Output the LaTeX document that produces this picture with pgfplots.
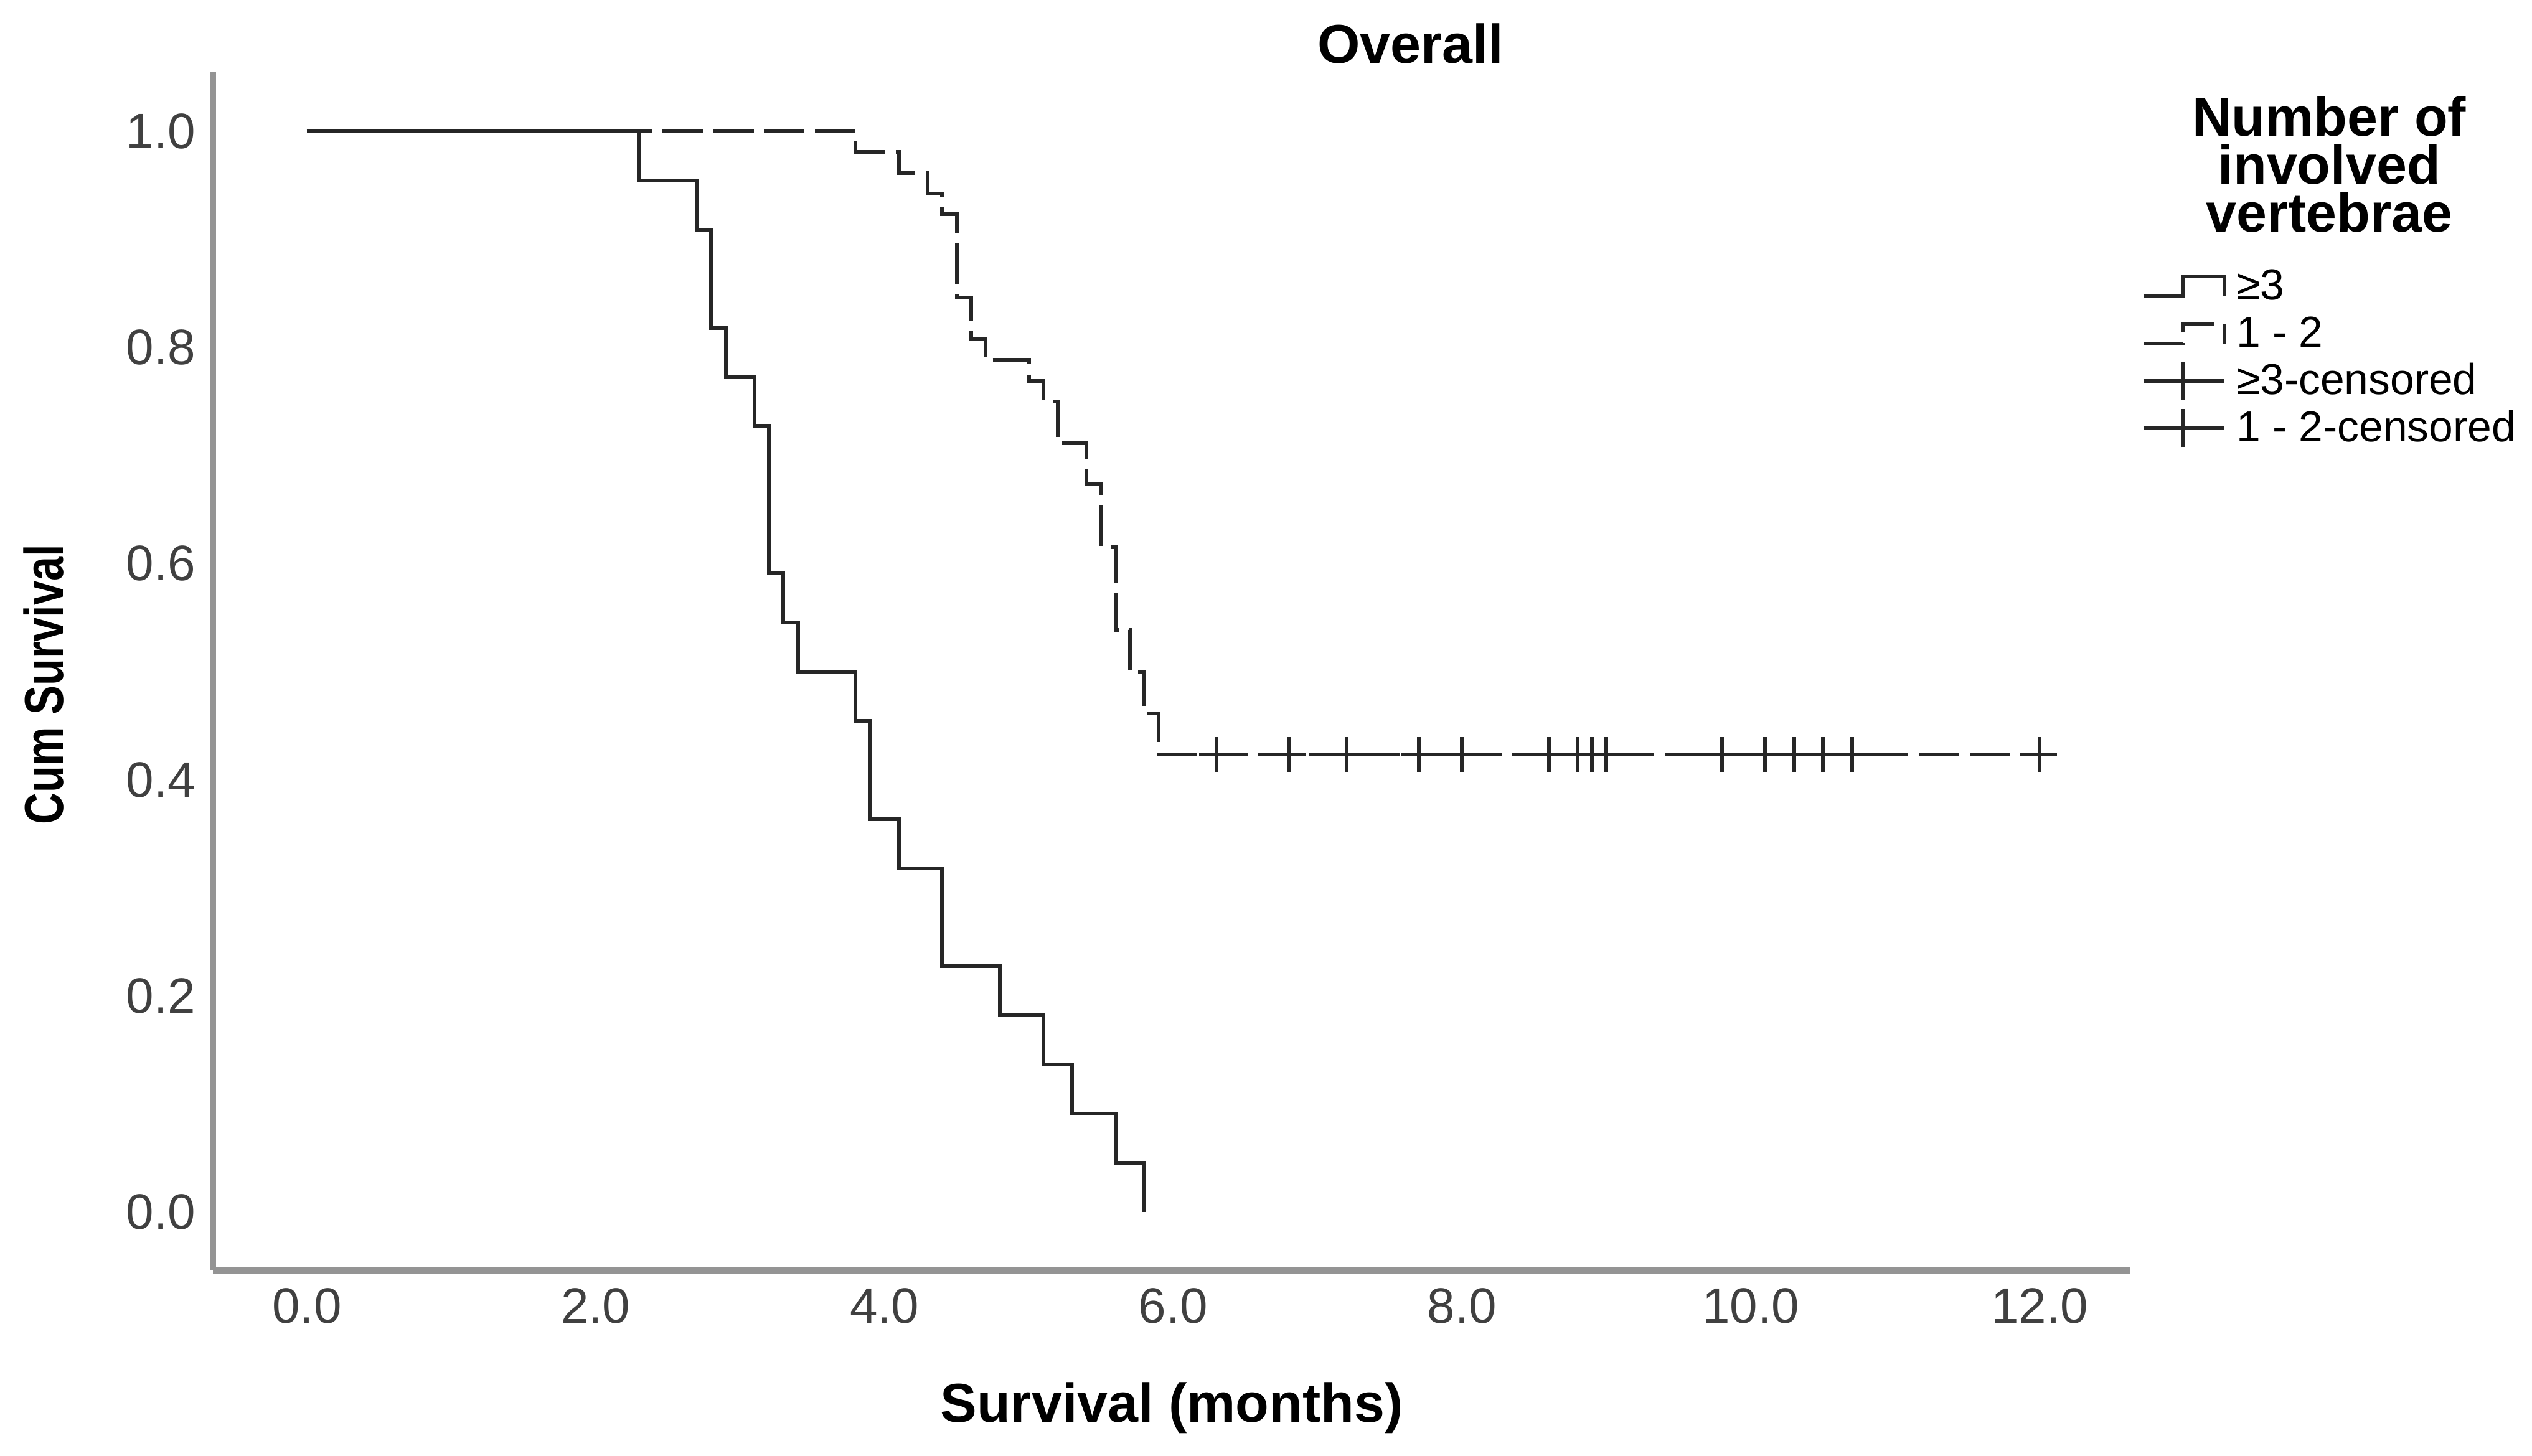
\documentclass[border=0pt]{standalone}
\usepackage{fontspec}
\setmainfont{Liberation Sans}
\usepackage{graphicx}
\usepackage{pgfplots}
\pgfplotsset{compat=1.18}

\definecolor{curve}{gray}{0.15}
\definecolor{axisgray}{gray}{0.58}
\definecolor{ticktext}{gray}{0.25}

\tikzset{
  stepA/.style={draw=curve, line width=0.75pt},
  stepB/.style={draw=curve, line width=0.75pt, dash pattern=on 8.1pt off 2.1pt},
}

\begin{document}
\begin{tikzpicture}
\begin{axis}[
  scale only axis, width=385pt, height=240.6pt,
  xmin=-0.651, xmax=12.63, ymin=-0.0541, ymax=1.0547,
  axis x line*=bottom, axis y line*=left,
  axis line style={axisgray, line width=1.3pt},
  major tick length=0pt,
  xtick={0,2,4,6,8,10,12},
  ytick={0,0.2,0.4,0.6,0.8,1.0},
  /pgf/number format/assume math mode=true,
  xticklabel style={/pgf/number format/.cd, fixed, fixed zerofill, precision=1},
  yticklabel style={/pgf/number format/.cd, fixed, fixed zerofill, precision=1},
  tick label style={font=\fontsize{10}{12}\selectfont, text=ticktext},
  clip=false,
  xlabel={Survival (months)},
  xlabel style={at={(axis description cs:0.5,-0.1147)}, anchor=center, font=\bfseries\fontsize{11}{13}\selectfont},
  ylabel={\scalebox{0.8}[1]{Cum Survival}},
  ylabel style={at={(axis description cs:-0.0883,0.489)}, anchor=center, font=\bfseries\fontsize{11}{13}\selectfont},
  legend cell align=left,
  legend style={at={(axis description cs:1.0052,0.842)}, anchor=north west,
    draw=none, fill=none, inner sep=0pt, row sep=0pt, column sep=1pt,
    font=\fontsize{8.7}{10}\selectfont,
    nodes={inner xsep=1pt, inner ysep=1pt, text height=6.5pt, text depth=1pt}},
]
% >=3 group (n = 22)
\addplot[curve, line width=0.75pt, const plot, mark=none,
  legend image code/.code={\draw[stepA] (0pt,-2pt) -- (8pt,-2pt) -- (8pt,2pt) -- (16.3pt,2pt) -- (16.3pt,-2pt);}]
coordinates {
(0,1) (2.3,0.9545) (2.7,0.9091) (2.8,0.8182) (2.9,0.7727) (3.1,0.7273)
(3.2,0.5909) (3.3,0.5455) (3.4,0.5) (3.8,0.4545) (3.9,0.3636) (4.1,0.3182)
(4.4,0.2273) (4.8,0.1818) (5.1,0.1364) (5.3,0.0909) (5.6,0.0455) (5.8,0)
};
\addlegendentry{≥3}
% 1-2 group (n = 52)
\addplot[curve, line width=0.75pt, dash pattern=on 8.1pt off 2.1pt, const plot, mark=none,
  legend image code/.code={\draw[stepB] (0pt,-2pt) -- (8pt,-2pt) -- (8pt,2pt) -- (16.3pt,2pt) -- (16.3pt,-2pt);}]
coordinates {
(0,1) (3.8,0.9808) (4.1,0.9615) (4.3,0.9423) (4.4,0.9231) (4.5,0.8462)
(4.6,0.8077) (4.7,0.7885) (5.0,0.7692) (5.1,0.75) (5.2,0.7115) (5.4,0.6731)
(5.5,0.6154) (5.6,0.5385) (5.7,0.5) (5.8,0.4615) (5.9,0.4231) (12.0,0.4231)
};
\addlegendentry{1 - 2}
\addlegendimage{legend image code/.code={\draw[stepA] (0pt,0pt) -- (16.3pt,0pt) (8pt,-3.8pt) -- (8pt,3.8pt);}}
\addlegendentry{≥3-censored}
% 1-2 censored
\addplot[only marks, mark=+, mark size=3.5pt, curve, line width=0.75pt,
  legend image code/.code={\draw[stepA] (0pt,0pt) -- (16.3pt,0pt) (8pt,-3.8pt) -- (8pt,3.8pt);}]
coordinates {
(6.3,0.4231) (6.8,0.4231) (7.2,0.4231) (7.7,0.4231) (8.0,0.4231) (8.0,0.4231)
(8.6,0.4231) (8.8,0.4231) (8.9,0.4231) (9.0,0.4231) (9.8,0.4231) (10.1,0.4231)
(10.3,0.4231) (10.3,0.4231) (10.5,0.4231) (10.5,0.4231) (10.7,0.4231) (12.0,0.4231)
};
\addlegendentry{1 - 2-censored}
\node[font=\bfseries\fontsize{11}{13}\selectfont, inner sep=0pt, anchor=base]
  at (axis description cs:0.6244,1.0075) {Overall};
\node[align=center, font=\bfseries\fontsize{11}{9.6}\selectfont, inner sep=0pt]
  at (axis description cs:1.1036,0.9231) {Number of\\involved\\vertebrae};
\end{axis}
\pgfresetboundingbox
\path ([xshift=-42.75pt,yshift=-37.25pt]current axis.south west) rectangle ([xshift=80.6pt,yshift=14.5pt]current axis.north east);
\end{tikzpicture}
\end{document}
